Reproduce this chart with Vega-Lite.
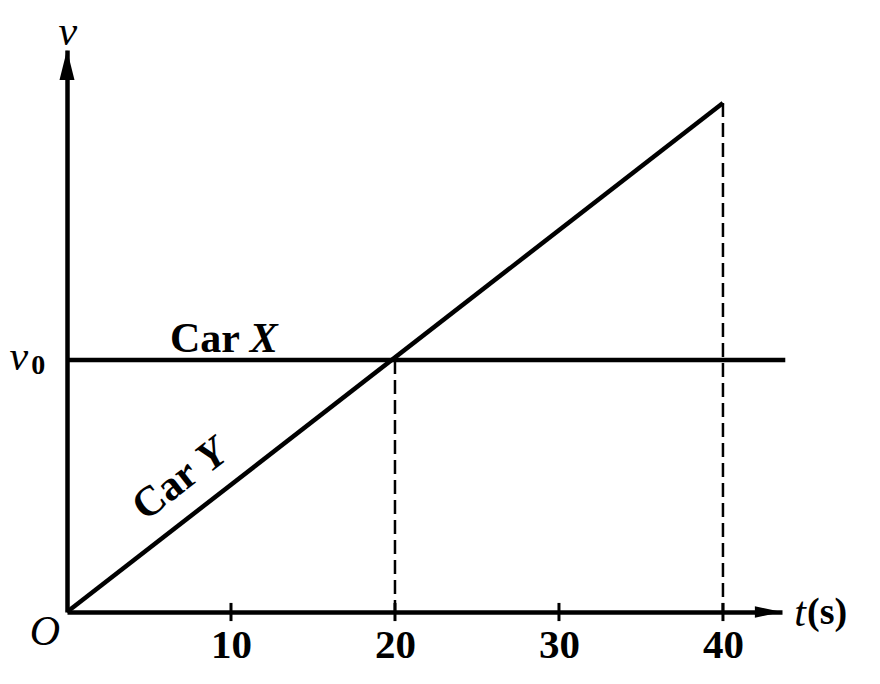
{
  "$schema": "https://vega.github.io/schema/vega-lite/v6.json",
  "autosize": {"type": "none"},
  "padding": {"left": 67, "top": 50, "right": 98, "bottom": 72},
  "width": 715,
  "height": 562,
  "background": "white",
  "config": {"view": {"stroke": null}, "font": "Liberation Serif"},
  "datasets": {
    "cars": [
      {"car": "X", "t": 0, "v": 1},
      {"car": "X", "t": 43.8, "v": 1},
      {"car": "Y", "t": 0, "v": 0},
      {"car": "Y", "t": 40, "v": 2.02}
    ],
    "guides": [{"t": 20, "v": 1}, {"t": 40, "v": 2.02}],
    "ticks": [{"t": 10}, {"t": 20}, {"t": 30}, {"t": 40}],
    "arrowX": [{"t": 42.77, "v": 0}],
    "arrowY": [{"t": 0, "v": 2.17}],
    "carWordX": [{"text": "Car", "t": 8.41, "v": 1.032}],
    "carLetterX": [{"text": "X", "t": 12.0, "v": 1.032}],
    "carWordY": [{"text": "Car", "t": 5.98, "v": 0.484}],
    "carLetterY": [{"text": "Y", "t": 8.84, "v": 0.623}],
    "italicNames": [
      {"text": "O", "t": -1.34, "v": -0.08},
      {"text": "v", "t": 0.05, "v": 2.3},
      {"text": "v", "t": -2.93, "v": 1.01},
      {"text": "t", "t": 44.7, "v": -0.004}
    ],
    "uprightSmall": [{"text": "0", "t": -1.75, "v": 0.975}],
    "uprightUnit": [{"text": "(s)", "t": 46.35, "v": -0.004}]
  },
  "layer": [
    {
      "data": {"name": "cars"},
      "mark": {"type": "line", "color": "black", "strokeWidth": 4.5, "clip": false},
      "encoding": {
        "x": {
          "field": "t", "type": "quantitative",
          "scale": {"domain": [0, 43.6], "nice": false, "zero": false},
          "axis": {
            "values": [10, 20, 30, 40], "ticks": false, "grid": false,
            "domain": true, "domainColor": "black", "domainWidth": 4.5,
            "labelFont": "Liberation Serif", "labelFontSize": 41, "labelFontWeight": "bold",
            "labelColor": "black", "labelPadding": 13, "title": null
          }
        },
        "y": {
          "field": "v", "type": "quantitative",
          "scale": {"domain": [0, 2.23], "nice": false, "zero": false},
          "axis": {
            "values": [1], "labels": false, "ticks": false, "grid": false,
            "domain": true, "domainColor": "black", "domainWidth": 4.5,
            "title": null
          }
        },
        "detail": {"field": "car"}
      }
    },
    {
      "data": {"name": "guides"},
      "mark": {"type": "rule", "color": "black", "strokeWidth": 2.5, "strokeDash": [14, 6]},
      "encoding": {
        "x": {"field": "t", "type": "quantitative"},
        "y": {"field": "v", "type": "quantitative"},
        "y2": {"datum": 0}
      }
    },
    {
      "data": {"name": "ticks"},
      "mark": {"type": "rule", "color": "black", "strokeWidth": 3, "clip": false},
      "encoding": {
        "x": {"field": "t", "type": "quantitative"},
        "y": {"datum": -0.036},
        "y2": {"datum": 0.036}
      }
    },
    {
      "data": {"name": "arrowX"},
      "mark": {"type": "point", "shape": "M-1,-0.42L1,0L-1,0.42Z", "size": 729, "filled": true, "color": "black", "opacity": 1, "clip": false},
      "encoding": {
        "x": {"field": "t", "type": "quantitative"},
        "y": {"field": "v", "type": "quantitative"}
      }
    },
    {
      "data": {"name": "arrowY"},
      "mark": {"type": "point", "shape": "M-0.5,1L0,-1L0.5,1Z", "size": 900, "filled": true, "color": "black", "opacity": 1, "clip": false},
      "encoding": {
        "x": {"field": "t", "type": "quantitative"},
        "y": {"field": "v", "type": "quantitative"}
      }
    },
    {
      "data": {"name": "carWordX"},
      "mark": {"type": "text", "font": "Liberation Serif", "fontSize": 42, "fontWeight": "bold", "color": "black", "align": "center", "baseline": "alphabetic", "clip": false},
      "encoding": {
        "x": {"field": "t", "type": "quantitative"},
        "y": {"field": "v", "type": "quantitative"},
        "text": {"field": "text"}
      }
    },
    {
      "data": {"name": "carLetterX"},
      "mark": {"type": "text", "font": "Liberation Serif", "fontSize": 42, "fontWeight": "bold", "fontStyle": "italic", "color": "black", "align": "center", "baseline": "alphabetic", "clip": false},
      "encoding": {
        "x": {"field": "t", "type": "quantitative"},
        "y": {"field": "v", "type": "quantitative"},
        "text": {"field": "text"}
      }
    },
    {
      "data": {"name": "carWordY"},
      "mark": {"type": "text", "font": "Liberation Serif", "fontSize": 42, "fontWeight": "bold", "color": "black", "align": "center", "baseline": "middle", "angle": -38, "clip": false},
      "encoding": {
        "x": {"field": "t", "type": "quantitative"},
        "y": {"field": "v", "type": "quantitative"},
        "text": {"field": "text"}
      }
    },
    {
      "data": {"name": "carLetterY"},
      "mark": {"type": "text", "font": "Liberation Serif", "fontSize": 42, "fontWeight": "bold", "fontStyle": "italic", "color": "black", "align": "center", "baseline": "middle", "angle": -38, "clip": false},
      "encoding": {
        "x": {"field": "t", "type": "quantitative"},
        "y": {"field": "v", "type": "quantitative"},
        "text": {"field": "text"}
      }
    },
    {
      "data": {"name": "italicNames"},
      "mark": {"type": "text", "font": "Liberation Serif", "fontSize": 42, "fontStyle": "italic", "color": "black", "align": "center", "baseline": "middle", "clip": false},
      "encoding": {
        "x": {"field": "t", "type": "quantitative"},
        "y": {"field": "v", "type": "quantitative"},
        "text": {"field": "text"}
      }
    },
    {
      "data": {"name": "uprightSmall"},
      "mark": {"type": "text", "font": "Liberation Serif", "fontSize": 28, "fontWeight": "bold", "color": "black", "align": "center", "baseline": "middle", "clip": false},
      "encoding": {
        "x": {"field": "t", "type": "quantitative"},
        "y": {"field": "v", "type": "quantitative"},
        "text": {"field": "text"}
      }
    },
    {
      "data": {"name": "uprightUnit"},
      "mark": {"type": "text", "font": "Liberation Serif", "fontSize": 38, "fontWeight": "bold", "color": "black", "align": "center", "baseline": "middle", "clip": false},
      "encoding": {
        "x": {"field": "t", "type": "quantitative"},
        "y": {"field": "v", "type": "quantitative"},
        "text": {"field": "text"}
      }
    }
  ]
}
